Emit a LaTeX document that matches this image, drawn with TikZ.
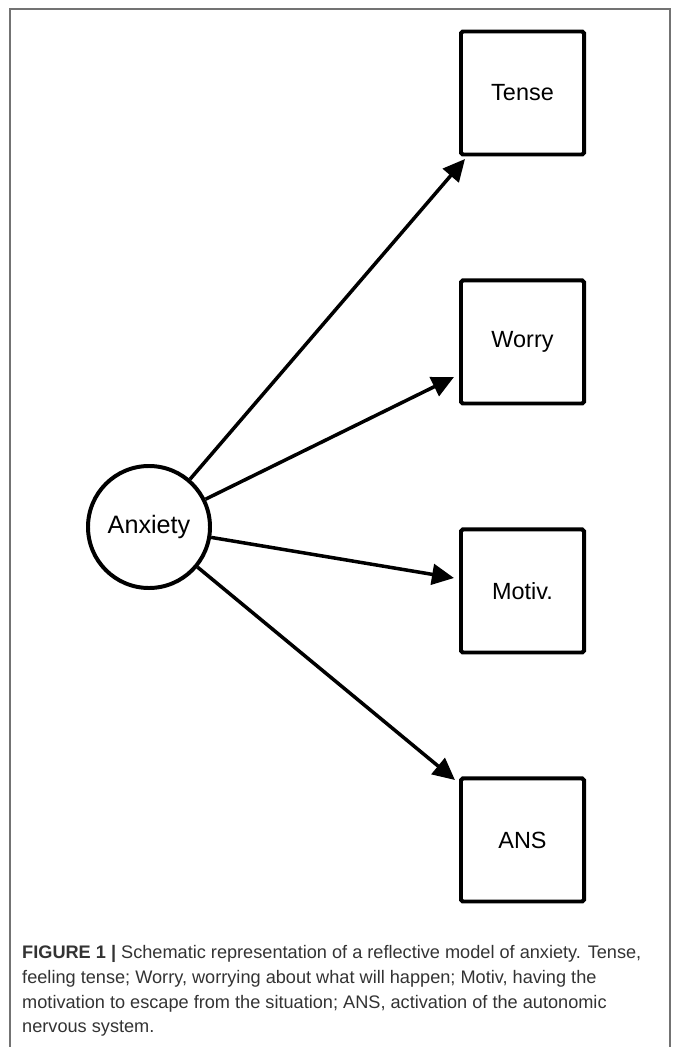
\documentclass[tikz,border=0pt]{standalone}
\usepackage{fontspec}
\setmainfont{Liberation Sans}
\usetikzlibrary{arrows.meta,positioning}

\begin{document}
\begin{tikzpicture}[x=0.03cm, y=-0.03cm, >={Triangle[length=0.66cm,width=0.62cm]}]
    \tikzset{
        itembox/.style={draw, line width=3.4pt, rounded corners=1.5pt,
            minimum width=3.69cm, minimum height=3.69cm, inner sep=0pt,
            font=\fontsize{20}{22}\selectfont},
        latent/.style={circle, draw, line width=3.4pt, minimum size=3.66cm,
            inner sep=0pt, font=\fontsize{21.5}{23}\selectfont},
        load/.style={->, line width=3pt},
    }
    \useasboundingbox (0,0) rectangle (672,1047);
    % ==== FRAME ====
    \draw[line width=1.3pt, black!55] (10,1047) -- (10,9) -- (670,9) -- (670,1047);
    % ==== ITEMS ====
    \node[itembox] (tense) at (522.5,93) {Tense};
    \node[itembox, below=3.66cm of tense] (worry) {Worry};
    \node[itembox, below=3.66cm of worry] (motiv) {Motiv.};
    \node[itembox, below=3.66cm of motiv] (ans) {ANS};
    % ==== FACTOR ====
    \node[latent] (anx) at (149,527) {Anxiety};
    % ==== LOADINGS ====
    \coordinate (tTense) at (465,159);
    \coordinate (tWorry) at (454,377);
    \coordinate (tMotiv) at (454,578);
    \coordinate (tAns) at (455,780);
    \draw[load] (anx) -- (tTense);
    \draw[load] (anx) -- (tWorry);
    \draw[load] (anx) -- (tMotiv);
    \draw[load] (anx) -- (tAns);
    % ==== CAPTION ====
    \node[anchor=north west, align=left, inner sep=0pt, text=black!80,
          font=\fontsize{15.5}{21.2}\selectfont] (cap) at (22,945)
        {\textbf{FIGURE 1 |} Schematic representation of a reflective model of anxiety. Tense,\\
         feeling tense; Worry, worrying about what will happen; Motiv, having the\\
         motivation to escape from the situation; ANS, activation of the autonomic\\
         nervous system.};
\end{tikzpicture}
\end{document}
